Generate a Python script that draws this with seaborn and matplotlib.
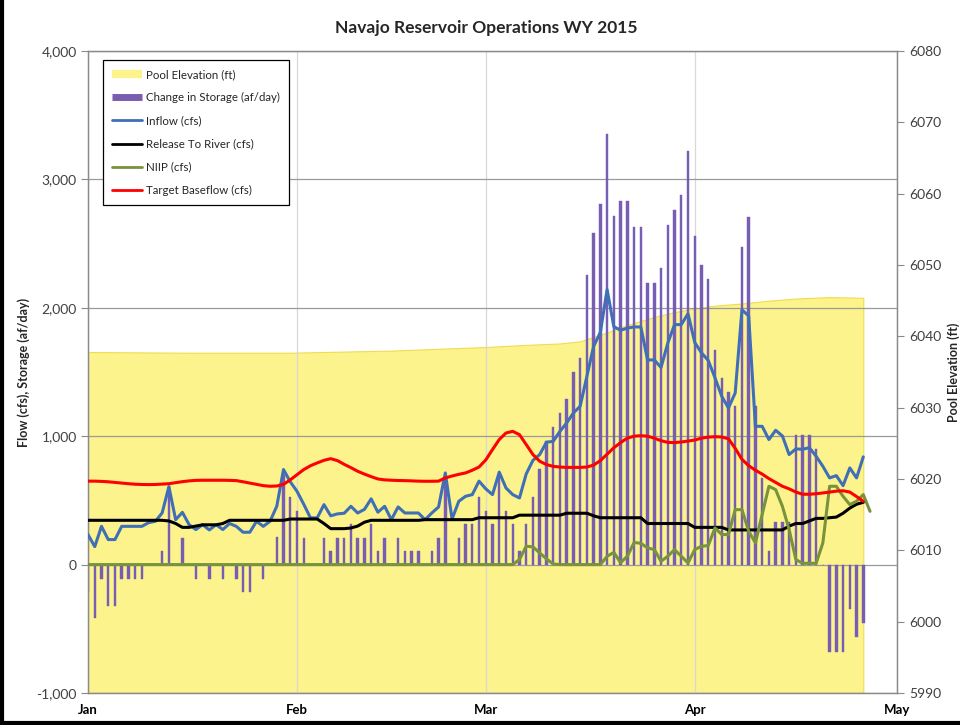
import matplotlib
matplotlib.use('Agg')
import numpy as np
import pandas as pd
import matplotlib.pyplot as plt
from matplotlib.lines import Line2D
import seaborn as sns

sns.set_theme(style='white')
plt.rcParams['font.family'] = ['Lato', 'DejaVu Sans']

START = '2015-01-01'

# Change in Storage (af/day), daily from Jan 1
storage = [
    -210, -415, -110, -320, -320, -110, -110, -110, -110, 0,
    0, 104, 610, 0, 210, 0, -110, 0, -110, 0,
    -110, 0, -110, -210, -210, 0, -110, 0, 218, 700,
    530, 420, 210, 0, 0, 210, 104, 210, 210, 315,
    210, 210, 315, 104, 210, 0, 210, 104, 104, 104,
    0, 104, 210, 690, 0, 210, 315, 315, 530, 420,
    320, 700, 420, 320, 104, 320, 530, 748, 960, 1072,
    1181, 1290, 1500, 1610, 2259, 2583, 2809, 3357, 2713, 2830,
    2835, 2627, 2627, 2194, 2194, 2311, 2643, 2765, 2882, 3224,
    2557, 2336, 2227, 1674, 1454, 1342, 1233, 2471, 2705, 1233,
    675, 104, 330, 330, 330, 1012, 1012, 1012, 900, 0,
    -680, -680, -680, -345, -563, -454,
]

# Inflow (cfs)
inflow = [
    234, 140, 298, 195, 195, 298, 298, 298, 298, 327,
    337, 403, 607, 350, 407, 311, 273, 311, 270, 311,
    273, 320, 298, 252, 252, 337, 298, 337, 454, 740,
    645, 571, 470, 364, 364, 467, 380, 395, 400, 454,
    402, 430, 512, 408, 454, 350, 449, 402, 402, 402,
    350, 402, 449, 714, 355, 493, 532, 545, 650, 590,
    545, 720, 597, 545, 519, 706, 812, 857, 953, 960,
    1038, 1103, 1181, 1233, 1467, 1700, 1809, 2142, 1853, 1825,
    1842, 1851, 1851, 1594, 1594, 1535, 1725, 1869, 1869, 1954,
    1730, 1649, 1590, 1455, 1311, 1220, 1337, 1984, 1937, 1077,
    1077, 974, 1046, 1002, 857, 901, 898, 911, 844, 766,
    675, 693, 615, 753, 675, 839,
]

# Release To River (cfs)
release = [
    345, 345, 345, 345, 345, 345, 345, 345, 345, 345,
    345, 345, 340, 320, 290, 290, 300, 310, 310, 310,
    320, 345, 345, 345, 345, 345, 345, 345, 345, 345,
    355, 355, 355, 355, 355, 320, 280, 280, 280, 285,
    300, 330, 345, 345, 345, 345, 345, 345, 345, 345,
    350, 350, 350, 350, 350, 350, 350, 350, 365, 365,
    365, 365, 365, 365, 385, 385, 385, 385, 385, 385,
    385, 400, 400, 400, 400, 380, 365, 365, 365, 365,
    365, 365, 365, 320, 320, 320, 320, 320, 320, 320,
    290, 290, 290, 290, 290, 270, 270, 270, 270, 270,
    270, 270, 270, 270, 300, 320, 320, 340, 360, 360,
    365, 370, 400, 440, 470, 485,
]

# Target Baseflow (cfs)
target = [
    650, 650, 648, 645, 640, 635, 630, 626, 624, 623,
    624, 627, 630, 638, 646, 652, 656, 657, 657, 657,
    657, 656, 654, 645, 635, 625, 615, 610, 612, 625,
    660, 700, 740, 770, 792, 812, 825, 810, 781, 755,
    727, 705, 685, 667, 660, 657, 655, 654, 652, 650,
    649, 649, 650, 675, 690, 703, 714, 735, 760, 815,
    896, 974, 1025, 1038, 1012, 935, 857, 805, 779, 765,
    760, 757, 757, 757, 760, 775, 810, 860, 910, 950,
    985, 1000, 1004, 1000, 985, 965, 952, 950, 955, 962,
    970, 985, 993, 996, 994, 980, 905, 820, 770, 735,
    705, 670, 640, 610, 590, 565, 548, 548, 552, 558,
    565, 572, 575, 565, 530, 493,
]

# NIIP (cfs)
niip = [
    0, 0, 0, 0, 0, 0, 0, 0, 0, 0,
    0, 0, 0, 0, 0, 0, 0, 0, 0, 0,
    0, 0, 0, 0, 0, 0, 0, 0, 0, 0,
    0, 0, 0, 0, 0, 0, 0, 0, 0, 0,
    0, 0, 0, 0, 0, 0, 0, 0, 0, 0,
    0, 0, 0, 0, 0, 0, 0, 0, 0, 0,
    0, 0, 0, 0, 40, 143, 138, 91, 45, 5,
    0, 0, 0, 0, 0, 0, 0, 65, 95, 15,
    65, 172, 166, 130, 117, 26, 65, 117, 65, 13,
    117, 143, 148, 286, 234, 234, 428, 428, 260, 169,
    390, 610, 584, 454, 273, 39, 10, 10, 10, 169,
    610, 610, 532, 467, 493, 545, 415,
]

# Pool Elevation (ft), day offset from Jan 1
pool_day = [0, 15, 30, 45, 59, 65, 70, 73, 76, 80, 84, 87, 90, 93, 97, 101, 105, 110, 115]
pool_elev = [6037.8, 6037.7, 6037.7, 6038.0, 6038.5, 6038.8, 6039.0, 6039.3, 6040.2,
             6041.6, 6042.7, 6043.4, 6043.9, 6044.3, 6044.6, 6045.0, 6045.3, 6045.5, 6045.4]

month_ticks = ['2015-01-01', '2015-02-01', '2015-03-01', '2015-04-01', '2015-05-01']
month_labels = ['Jan', 'Feb', 'Mar', 'Apr', 'May']
left_ticks = [-1000, 0, 1000, 2000, 3000, 4000]
right_ticks = [5990, 6000, 6010, 6020, 6030, 6040, 6050, 6060, 6070, 6080]

dates = pd.date_range(START, periods=len(inflow), freq='D')
niip_dates = pd.date_range(START, periods=len(niip), freq='D')
pool_dates = pd.Timestamp(START) + pd.to_timedelta(pool_day, unit='D')

df = pd.DataFrame({'date': dates, 'inflow': inflow, 'release': release,
                   'target': target, 'storage': storage})
dfn = pd.DataFrame({'date': niip_dates, 'niip': niip})

fig = plt.figure(figsize=(9.6, 7.25), dpi=100)
ax = fig.add_axes([88/960, 1-693/725, (897-88)/960, (693-51)/725])
ax2 = ax.twinx()
ax.set_zorder(ax2.get_zorder() + 1)
ax.patch.set_visible(False)

YELLOW = '#fdf38c'

# Pool elevation area on the right axis
ax2.fill_between(pool_dates, 5990, pool_elev, color=YELLOW, edgecolor='#efdc50', lw=0.8)
ax2.set_ylim(5990, 6080)
ax2.set_yticks(right_ticks)

# Storage bars
ax.bar(df['date'], df['storage'], width=0.36, color='#7b5db0', edgecolor='#6b5fc0',
       linewidth=0.3, zorder=2)

# Lines (seaborn)
sns.lineplot(data=df, x='date', y='inflow', ax=ax, color='#3f6fb6', lw=2.2, zorder=3)
sns.lineplot(data=df, x='date', y='release', ax=ax, color='black', lw=2.2, zorder=3)
sns.lineplot(data=dfn, x='date', y='niip', ax=ax, color='#77933c', lw=2.2, zorder=3)
sns.lineplot(data=df, x='date', y='target', ax=ax, color='#ff0000', lw=2.2, zorder=4)

ax.set_ylim(-1000, 4000)
ax.set_yticks(left_ticks)
ax.set_yticklabels([f'{v:,}' for v in left_ticks])
xt = pd.to_datetime(month_ticks)
ax.set_xlim(xt[0], xt[-1])
ax.set_xticks(xt)
ax.set_xticklabels(month_labels, fontweight='bold', fontsize=9.5)

ax.grid(axis='y', color='#9a9a9a', lw=0.9, zorder=1)
ax.grid(axis='x', color='#d8d8d8', lw=0.9, zorder=1)
ax2.grid(False)

for a in (ax, ax2):
    for s in a.spines.values():
        s.set_color('#8a8a8a')
        s.set_linewidth(0.9)
ax.tick_params(axis='y', colors='#404040', labelsize=10, length=5, direction='out',
               left=True, width=0.8, pad=3)
ax.tick_params(axis='y', color='#8a8a8a')
ax.tick_params(axis='x', labelsize=9.5, length=0, pad=8, labelcolor='black')
ax2.tick_params(axis='y', labelcolor='#404040', color='#8a8a8a', labelsize=10, length=5,
                direction='out', right=True, width=0.8, pad=4)

ax.set_xlabel('')
ax.set_ylabel('Flow (cfs), Storage (af/day)', fontweight='bold', fontsize=9, labelpad=5)
ax2.set_ylabel('Pool Elevation (ft)', fontweight='bold', fontsize=9, labelpad=4)

fig.text(486/960, 1-28/725, 'Navajo Reservoir Operations WY 2015', ha='center', va='center',
         fontsize=12.5, fontweight='bold')

handles = [
    Line2D([0], [0], color=YELLOW, lw=6, solid_capstyle='butt'),
    Line2D([0], [0], color='#7b5db0', lw=5, solid_capstyle='butt'),
    Line2D([0], [0], color='#3f6fb6', lw=2),
    Line2D([0], [0], color='black', lw=2),
    Line2D([0], [0], color='#77933c', lw=2),
    Line2D([0], [0], color='#ff0000', lw=2),
]
labels = ['Pool Elevation (ft)', 'Change in Storage (af/day)', 'Inflow (cfs)',
          'Release To River (cfs)', 'NIIP (cfs)', 'Target Baseflow (cfs)']
leg = ax.legend(handles, labels, loc='upper left', bbox_to_anchor=(0.0185, 0.986),
                fontsize=8.3, frameon=True, fancybox=False, framealpha=1,
                edgecolor='black', handlelength=2.6, labelspacing=1.05,
                borderpad=0.8, handletextpad=0.3, borderaxespad=0)
leg.get_frame().set_linewidth(0.9)
leg.set_zorder(10)

# outer frame
fig.add_artist(Line2D([0.002, 0.002], [0, 1], color='black', lw=3, transform=fig.transFigure))
fig.add_artist(Line2D([0, 1], [0.003, 0.003], color='black', lw=3, transform=fig.transFigure))

fig.savefig('out.png', dpi=100)
